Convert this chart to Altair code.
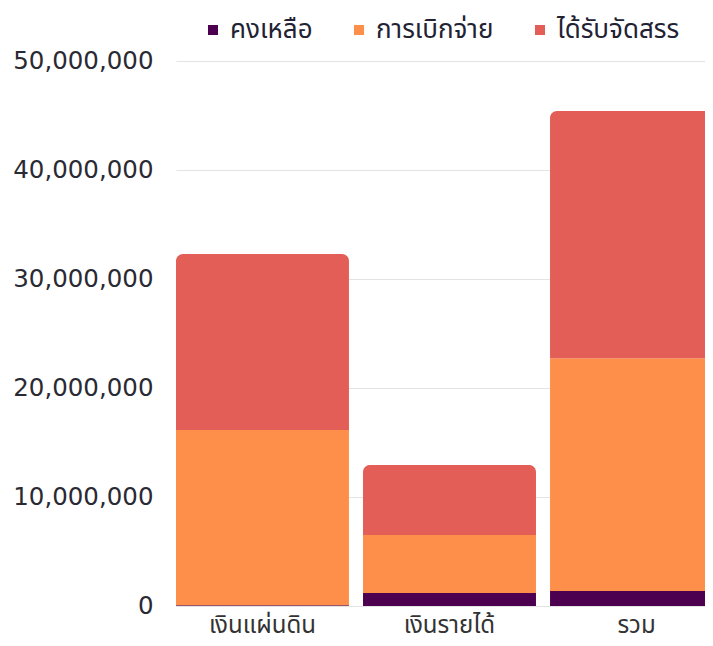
import altair as alt
import pandas as pd

categories = ["เงินแผ่นดิน", "เงินรายได้", "รวม"]
series = ["คงเหลือ", "การเบิกจ่าย", "ได้รับจัดสรร"]
remaining = [80000, 1190000, 1380000]
disbursed = [16070000, 5320000, 21340000]
allocated = [16140000, 6430000, 22690000]
colors = ["#4d004f", "#fe8f4b", "#e35e57"]
y_ticks = [0, 10000000, 20000000, 30000000, 40000000, 50000000]

rows = []
for i, c in enumerate(categories):
    for j, (s, vals) in enumerate(zip(series, [remaining, disbursed, allocated])):
        rows.append({"category": c, "series": s, "value": vals[i], "order": j})
df = pd.DataFrame(rows)

THAI = "Noto Sans Thai, Noto Sans, sans-serif"
NUM = "DejaVu Sans, sans-serif"

chart = alt.Chart(df).mark_bar(
    cornerRadiusTopLeft=7, cornerRadiusTopRight=7, clip=False
).encode(
    x=alt.X(
        "category:N", sort=categories, title=None,
        scale=alt.Scale(paddingInner=0.075, paddingOuter=0, range=[0, 547]),
        axis=alt.Axis(labelAngle=0, ticks=False, domain=False, labelFontSize=24,
                      labelPadding=7, labelColor="#333333", labelFont=THAI, grid=False),
    ),
    y=alt.Y(
        "value:Q", stack="zero", title=None,
        scale=alt.Scale(domain=[0, 50000000], nice=False),
        axis=alt.Axis(values=y_ticks, format=",d", ticks=False, domain=False,
                      labelFontSize=24.5, labelPadding=23, labelColor="#2a2a33",
                      labelFont=NUM, gridColor="#e3e3e3", gridWidth=1),
    ),
    color=alt.Color(
        "series:N", sort=series,
        scale=alt.Scale(domain=series, range=colors),
        legend=alt.Legend(
            title=None, orient="none", direction="horizontal",
            legendX=24, legendY=-44, symbolType="square", symbolSize=100,
            labelFontSize=26, labelFont=THAI, labelColor="#222233",
            columnPadding=33, labelOffset=4, symbolStrokeWidth=0,
        ),
    ),
    order=alt.Order("order:Q"),
).properties(
    width=529, height=545,
    autosize=alt.AutoSizeParams(type="none"),
    padding={"left": 168, "top": 53, "right": 0, "bottom": 38},
).configure_view(stroke=None)

chart.save("out.html", embed_options={"renderer": "svg", "actions": False})
